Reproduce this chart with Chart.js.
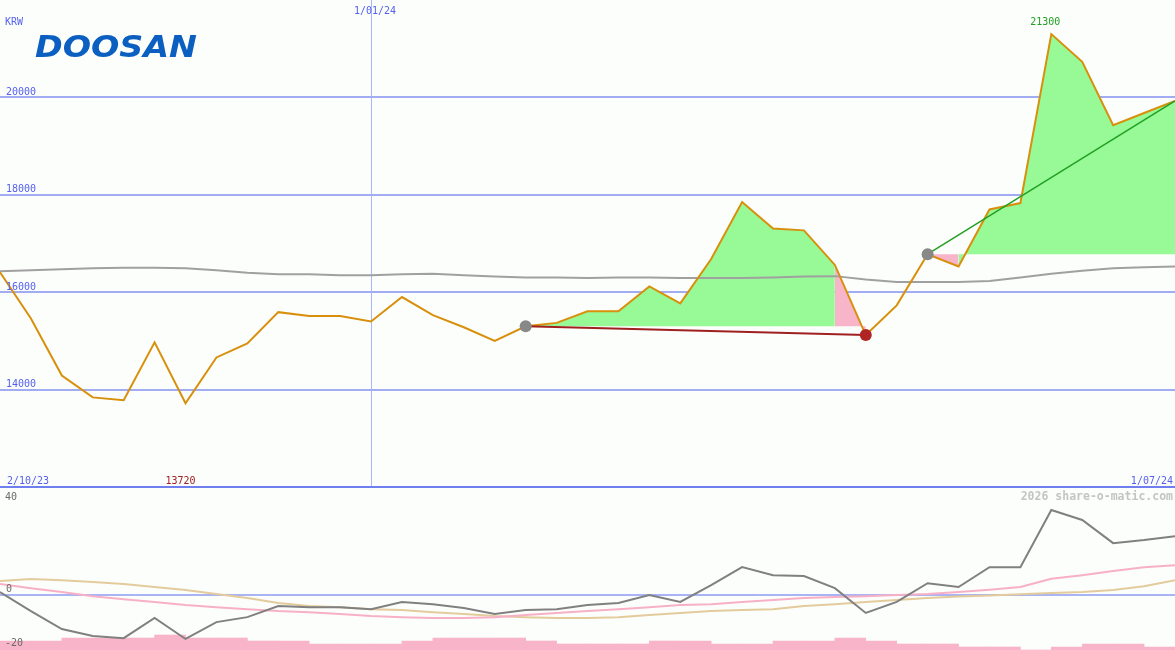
<!DOCTYPE html>
<html><head><meta charset="utf-8">
<script src="https://cdn.jsdelivr.net/npm/chart.js@4.4.1/dist/chart.umd.min.js"></script>
<style>
html,body{margin:0;padding:0;background:#fcfefc;}
#wrap{position:relative;width:1175px;height:650px;overflow:hidden;background:#fcfefc;}
#top{position:absolute;left:0;top:0;width:1175px;height:489px;}
#bot{position:absolute;left:0;top:489px;width:1175px;height:161px;}
canvas{display:block;}
</style></head><body>
<div id="wrap">
  <div id="top"><canvas id="c1" width="1175" height="489"></canvas></div>
  <div id="bot"><canvas id="c2" width="1175" height="161"></canvas></div>
</div>
<script>
// ---------- DATA ----------
const weeks = ['9/10/23','16/10/23','23/10/23','30/10/23','6/11/23','13/11/23','20/11/23','27/11/23',
  '4/12/23','11/12/23','18/12/23','25/12/23','1/01/24','8/01/24','15/01/24','22/01/24','29/01/24',
  '5/02/24','12/02/24','19/02/24','26/02/24','4/03/24','11/03/24','18/03/24','25/03/24',
  '1/04/24','8/04/24','15/04/24','22/04/24','29/04/24','6/05/24','13/05/24','20/05/24','27/05/24',
  '3/06/24','10/06/24','17/06/24','24/06/24','1/07/24'];
const price = [16410,15460,14290,13840,13780,14970,13720,14660,14950,15590,15510,15510,15400,15900,
  15530,15280,15000,15300,15370,15610,15610,16120,15770,16680,17850,17310,17270,16560,15120,15730,
  16780,16530,17700,17830,21300,20730,19430,19680,19930];
const longAvg = [16430,16450,16470,16490,16500,16500,16490,16450,16400,16370,16370,16350,16350,16370,
  16380,16350,16320,16300,16300,16290,16300,16300,16290,16290,16290,16300,16320,16330,16260,16210,
  16210,16210,16230,16300,16380,16440,16490,16510,16530];
const oscGray = [1.0,-5.9,-12.4,-14.9,-15.7,-8.4,-16.0,-9.9,-8.1,-4.1,-4.5,-4.5,-5.2,-2.6,-3.4,-4.8,-7.0,
  -5.5,-5.2,-3.7,-3.0,-0.1,-2.6,3.5,10.0,7.1,6.8,2.4,-6.6,-2.6,4.2,2.8,10.0,10.0,30.7,27.1,18.7,19.8,21.2];
const oscPink = [3.9,2.4,1.0,-0.5,-1.6,-2.6,-3.7,-4.5,-5.2,-5.9,-6.3,-7.0,-7.7,-8.1,-8.4,-8.4,-8.1,-7.3,
  -6.6,-5.9,-5.2,-4.5,-3.7,-3.4,-2.6,-1.9,-1.2,-0.8,-0.5,-0.1,0.3,1.0,1.8,2.8,5.8,7.1,8.6,10.0,10.7];
const oscTan = [5.0,5.7,5.3,4.6,3.9,2.8,1.7,0.3,-1.2,-3.0,-4.1,-4.5,-5.2,-5.5,-6.3,-7.0,-7.7,-8.1,-8.4,
  -8.4,-8.1,-7.3,-6.6,-5.9,-5.5,-5.2,-4.1,-3.4,-2.6,-1.9,-1.2,-0.6,-0.3,0.2,0.6,1.0,1.7,3.1,5.3];
const volume = [3,3,4,4,4,5,4,4,3,3,2,2,2,3,4,4,4,3,2,2,2,3,3,2,2,3,3,4,3,2,2,1,1,0,1,2,2,1];
const signalA = [17, 28];   // start (grey dot) / end (red dot) of first trade
const signalB = [30, 38];   // start (grey dot) of second trade / latest
const priceTicks = [12000,14000,16000,18000,20000];
const priceLabels = ['20000','18000','16000','14000'];
const oscLabels = ['40','0','-20'];
const yearMarkIdx = 12;
const currency = 'KRW';
const brand = 'DOOSAN';
const startLabel = '2/10/23';
const endLabel = '1/07/24';
const watermark = '2026 share-o-matic.com';

// ---------- STYLE ----------
const BG = '#fcfefc';
const BLUE_TXT = '#5561ee';
const GRID = '#a2acf2';
const AXIS = '#6f7ff0';
const VLINE = '#aab6f8';
const ORANGE = '#d8900c';
const GREEN_FILL = '#97fa97';
const PINK_FILL = '#f8b4c8';
const MONO = '"DejaVu Sans Mono", monospace';

const pts = (arr, from, to) => { const o=[]; for(let i=from;i<=to;i++) o.push({x:i,y:arr[i]}); return o; };
const N = price.length - 1;

const bgPlugin = { id:'bg', beforeDraw(c){ const x=c.ctx; x.save(); x.fillStyle=BG; x.fillRect(0,0,c.width,c.height); x.restore(); } };

const topText = {
  id:'topText',
  afterDraw(chart){
    const ctx = chart.ctx, ys = chart.scales.y, xs = chart.scales.x;
    ctx.save();
    ctx.font = '10px ' + MONO;
    ctx.textBaseline = 'alphabetic';
    ctx.fillStyle = BLUE_TXT;
    ctx.textAlign = 'left';
    ctx.fillText(currency, 5, 24.5);
    priceLabels.forEach(l => ctx.fillText(l, 6, ys.getPixelForValue(+l) - 2.5));
    ctx.fillText(startLabel, 7, 483.5);
    ctx.textAlign = 'right';
    ctx.fillText(endLabel, 1173, 483.5);
    ctx.textAlign = 'center';
    ctx.fillText(weeks[yearMarkIdx], xs.getPixelForValue(yearMarkIdx) + 4, 13.5);
    // max / min
    const maxV = Math.max(...price), minV = Math.min(...price);
    ctx.fillStyle = '#22a022';
    ctx.fillText(String(maxV), xs.getPixelForValue(price.indexOf(maxV)) - 6, 25);
    ctx.fillStyle = '#a02020';
    ctx.fillText(String(minV), xs.getPixelForValue(price.indexOf(minV)) - 5, 483.5);
    // logo
    ctx.font = 'italic bold 31px "DejaVu Sans", sans-serif';
    ctx.fillStyle = '#0b5fc0';
    ctx.textAlign = 'left';
    const w = ctx.measureText(brand).width;
    ctx.translate(35, 56.5);
    ctx.scale(162 / w, 1);
    ctx.fillText(brand, 0, 0);
    ctx.restore();
  }
};

const botText = {
  id:'botText',
  afterDraw(chart){
    const ctx = chart.ctx, ys = chart.scales.y;
    ctx.save();
    ctx.font = 'bold 11.5px ' + MONO;
    ctx.fillStyle = '#c4c4c4';
    ctx.textAlign = 'right';
    ctx.textBaseline = 'alphabetic';
    ctx.fillText(watermark, 1173, 11);
    ctx.font = '10px ' + MONO;
    ctx.fillStyle = '#6a6a6a';
    ctx.textAlign = 'left';
    ctx.fillText(oscLabels[0], 5, 10.5);
    ctx.fillText(oscLabels[1], 6, ys.getPixelForValue(0) - 2.5);
    ctx.fillText(oscLabels[2], 5, 157);
    ctx.restore();
  }
};

const xScale = {
  type:'linear', min:0, max:N, offset:false,
  ticks:{display:false}, border:{display:false},
  grid:{drawTicks:false, color:VLINE, lineWidth:1},
  afterBuildTicks: s => { s.ticks = [{value: yearMarkIdx}]; }
};

const fillDs = (from, to, base, color) => ({
  type:'line', data: pts(price, from, to), borderColor:'rgba(0,0,0,0)', borderWidth:0,
  pointRadius:0, backgroundColor: color, fill:{value: base}
});

new Chart(document.getElementById('c1'), {
  type:'line',
  data:{ datasets:[
    { type:'scatter', data:[{x:signalA[0],y:price[signalA[0]]},{x:signalB[0],y:price[signalB[0]]}],
      pointRadius:6, pointHoverRadius:6, backgroundColor:'#888888', borderWidth:0 },
    { type:'scatter', data:[{x:signalA[1],y:price[signalA[1]]}],
      pointRadius:6, pointHoverRadius:6, backgroundColor:'#b02424', borderWidth:0 },
    { data:[{x:signalA[0],y:price[signalA[0]]},{x:signalA[1],y:price[signalA[1]]}],
      borderColor:'#a02020', borderWidth:2, pointRadius:0, fill:false },
    { data:[{x:signalB[0],y:price[signalB[0]]},{x:signalB[1],y:price[signalB[1]]}],
      borderColor:'#22a022', borderWidth:1.5, pointRadius:0, fill:false },
    { data: pts(price,0,N), borderColor:ORANGE, borderWidth:2, pointRadius:0, fill:false, tension:0 },
    { data: pts(longAvg,0,N), borderColor:'#a0a0a0', borderWidth:2, pointRadius:0, fill:false },
    fillDs(signalA[0], signalA[1]-1, price[signalA[0]], GREEN_FILL),
    fillDs(signalA[1]-1, signalA[1], price[signalA[0]], PINK_FILL),
    fillDs(signalB[0], signalB[0]+1, price[signalB[0]], PINK_FILL),
    fillDs(signalB[0]+1, signalB[1], price[signalB[0]], GREEN_FILL)
  ]},
  options:{
    responsive:false, animation:false, devicePixelRatio:1,
    layout:{autoPadding:false, padding:{left:0,right:0,top:0,bottom:2}},
    plugins:{legend:{display:false}, tooltip:{enabled:false}},
    events:[],
    scales:{
      x: xScale,
      y:{ min:12000, max:22000, ticks:{display:false}, border:{display:false},
          grid:{drawTicks:false, lineWidth:2, color: c => (c.tick && c.tick.value === 12000) ? AXIS : GRID},
          afterBuildTicks: s => { s.ticks = priceTicks.map(v => ({value:v})); } }
    }
  },
  plugins:[bgPlugin, topText]
});

new Chart(document.getElementById('c2'), {
  type:'line',
  data:{ datasets:[
    { data: pts(oscGray,0,N), borderColor:'#808080', borderWidth:2, pointRadius:0, fill:false },
    { data: pts(oscPink,0,N), borderColor:'#f7b0c6', borderWidth:2, pointRadius:0, fill:false },
    { data: pts(oscTan,0,N), borderColor:'#e3cb9c', borderWidth:2, pointRadius:0, fill:false },
    { type:'bar', yAxisID:'yv', data: volume.map((v,i)=>({x:i+0.5,y:v})), backgroundColor:PINK_FILL,
      borderWidth:0, barPercentage:1, categoryPercentage:1 }
  ]},
  options:{
    responsive:false, animation:false, devicePixelRatio:1,
    layout:{autoPadding:false, padding:0},
    plugins:{legend:{display:false}, tooltip:{enabled:false}},
    events:[],
    scales:{
      x: Object.assign({}, xScale),
      y:{ min:-20, max:38.3, ticks:{display:false}, border:{display:false},
          grid:{drawTicks:false, lineWidth:2, color:'#a8b4f4'},
          afterBuildTicks: s => { s.ticks = [{value:0}]; } },
      yv:{ display:false, min:0, max:53.67 }
    }
  },
  plugins:[bgPlugin, botText]
});
</script>
</body></html>
